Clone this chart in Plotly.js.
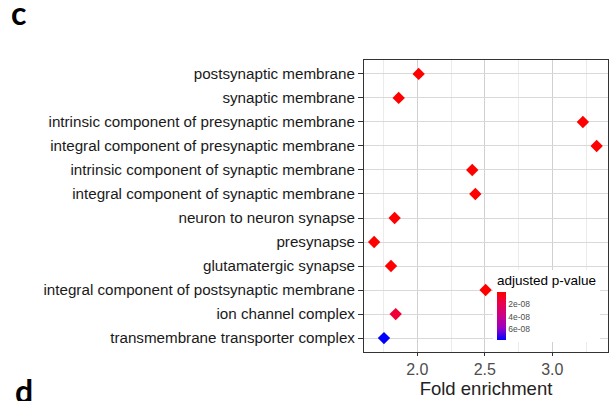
<!DOCTYPE html>
<html>
<head>
<meta charset="utf-8">
<script src="https://cdn.plot.ly/plotly-3.0.1.min.js"></script>
<style>
html,body{margin:0;padding:0;background:#fff;}
#chart{width:616px;height:401px;}
</style>
</head>
<body>
<div id="chart"></div>
<script>
// ---- data ----
var terms = [
  "postsynaptic membrane",
  "synaptic membrane",
  "intrinsic component of presynaptic membrane",
  "integral component of presynaptic membrane",
  "intrinsic component of synaptic membrane",
  "integral component of synaptic membrane",
  "neuron to neuron synapse",
  "presynapse",
  "glutamatergic synapse",
  "integral component of postsynaptic membrane",
  "ion channel complex",
  "transmembrane transporter complex"
];
var foldEnrichment = [2.01, 1.862, 3.227, 3.329, 2.407, 2.43, 1.832, 1.68, 1.805, 2.506, 1.84, 1.753];
var adjPValue = [2e-12, 5e-11, 1e-10, 2e-10, 3e-11, 6e-11, 8e-11, 1e-12, 4e-10, 3e-10, 1.3e-8, 7.7e-8];
var cbTickVals = [2e-8, 4e-8, 6e-8];
var cbTickText = ["2e-08", "4e-08", "6e-08"];

// ---- layout geometry ----
var W = 616, H = 401;
var ml = 364, mr = 8, mt = 60, mb = 49;
var pw = W - ml - mr, ph = H - mt - mb;
function px2x(px){ return (px - ml) / pw; }
function py2y(py){ return 1 - (py - mt) / ph; }

var pmin = Math.min.apply(null, adjPValue);
var pmax = Math.max.apply(null, adjPValue);
// colour bar runs top = low p (red) to bottom = high p (blue): map on -p
var negP = adjPValue.map(function(v){ return -v; });

var trace = {
  type: "scatter",
  mode: "markers",
  x: foldEnrichment,
  y: terms,
  marker: {
    symbol: "diamond",
    size: 9.5,
    color: negP,
    cmin: -pmax,
    cmax: -pmin,
    colorscale: [[0, "#0000FF"], [0.25, "rgb(154,0,195)"], [0.5, "rgb(202,0,137)"], [0.75, "rgb(232,0,79)"], [1, "#FF0000"]],
    line: {width: 0},
    showscale: true,
    colorbar: {
      title: {text: "adjusted p-value", side: "top", font: {family: "Liberation Sans, Arial, sans-serif", size: 13.5, color: "#000"}},
      tickvals: cbTickVals.map(function(v){ return -v; }),
      ticktext: cbTickText,
      tickfont: {family: "Liberation Sans, Arial, sans-serif", size: 8.5, color: "#4d4d4d"},
      ticks: "",
      thickness: 9,
      thicknessmode: "pixels",
      len: 72,
      lenmode: "pixels",
      x: px2x(493),
      xanchor: "left",
      xref: "paper",
      y: py2y(270),
      yanchor: "top",
      yref: "paper",
      xpad: 4,
      ypad: 2,
      outlinewidth: 0,
      bgcolor: "#ffffff",
      borderwidth: 0
    }
  },
  hoverinfo: "x+y"
};

var fontFam = "Liberation Sans, Arial, sans-serif";
var layout = {
  width: W, height: H,
  margin: {l: ml, r: mr, t: mt, b: mb, pad: 0},
  paper_bgcolor: "#ffffff",
  plot_bgcolor: "#ffffff",
  showlegend: false,
  font: {family: fontFam},
  xaxis: {
    range: [1.605, 3.413],
    tickvals: [2.0, 2.5, 3.0],
    ticktext: ["2.0", "2.5", "3.0"],
    tickfont: {size: 16, color: "#4d4d4d"},
    ticks: "outside", ticklen: 3, tickcolor: "#333",
    showgrid: true, gridcolor: "#d0d0d0", gridwidth: 1,
    minor: {dtick: 0.25, tick0: 0, showgrid: true, gridcolor: "#ebebeb", gridwidth: 1, ticks: ""},
    zeroline: false,
    showline: true, linecolor: "#333", linewidth: 1, mirror: true,
    title: {text: "Fold enrichment", font: {size: 18.5, color: "#222"}, standoff: 3}
  },
  yaxis: {
    type: "category",
    categoryorder: "array",
    categoryarray: terms,
    range: [11.58, -0.58],
    tickfont: {size: 15.2, color: "#1a1a1a"},
    ticks: "outside", ticklen: 5, tickcolor: "#333",
    showgrid: true, gridcolor: "#d9d9d9", gridwidth: 1,
    zeroline: false,
    showline: true, linecolor: "#333", linewidth: 1, mirror: true
  },
  annotations: [
    {text: "<b>c</b>", xref: "paper", yref: "paper", x: px2x(10), y: py2y(3), xanchor: "left", yanchor: "top",
     height: 28, valign: "bottom",
     showarrow: false, borderpad: 0, font: {family: "Lato, Open Sans, sans-serif", size: 32, color: "#000"}},
    {text: "<b>d</b>", xref: "paper", yref: "paper", x: px2x(14), y: py2y(370), xanchor: "left", yanchor: "top",
     showarrow: false, borderpad: 0, font: {family: "Lato, Open Sans, sans-serif", size: 32, color: "#000"}}
  ]
};

Plotly.newPlot("chart", [trace], layout, {displayModeBar: false, staticPlot: true});
</script>
</body>
</html>
